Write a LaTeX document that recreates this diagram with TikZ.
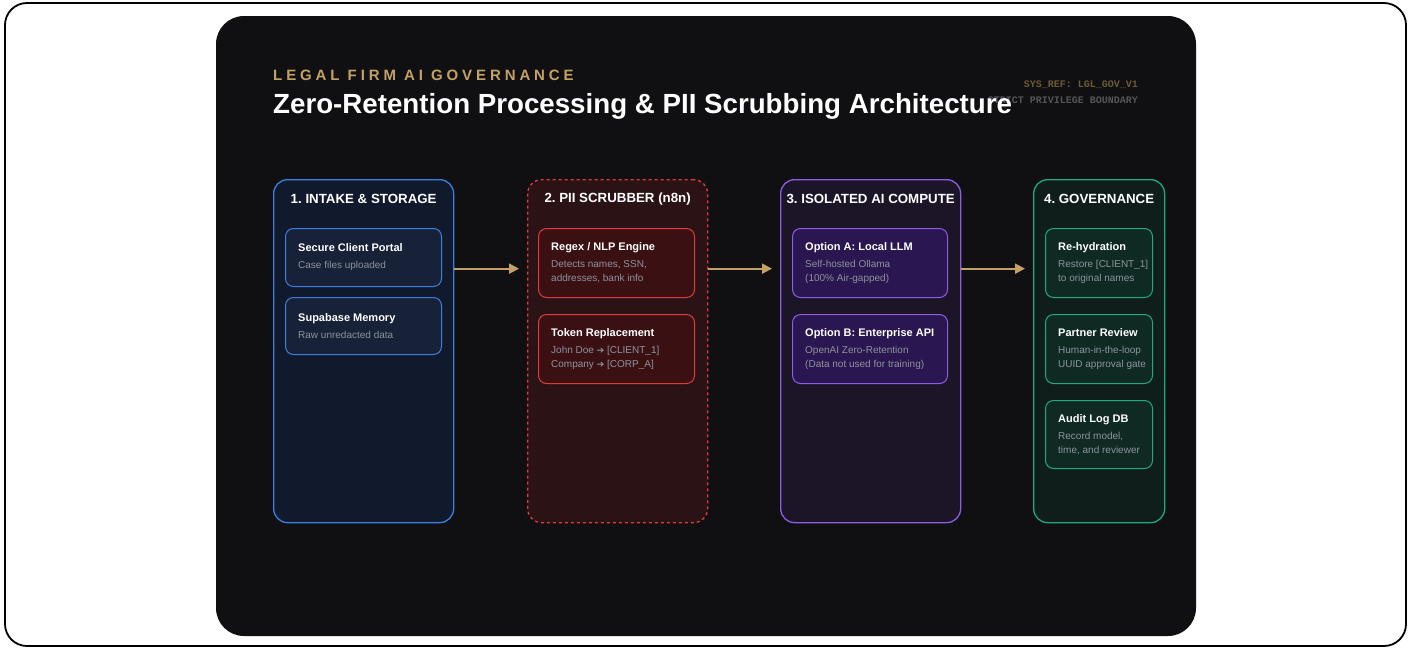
\documentclass[tikz,border=0pt]{standalone}
\usepackage{xcolor}
\usepackage{fontspec}
\setmainfont{Liberation Sans}
\setmonofont{Liberation Mono}
\newfontfamily\spacedfont[LetterSpace=26]{Liberation Sans}
\newfontfamily\symfont{DejaVu Sans}
\usepackage{tikz}
\usetikzlibrary{arrows.meta}
\frenchspacing

\definecolor{panelbg}{HTML}{101012}
\definecolor{gold}{HTML}{C4A265}
\definecolor{golddim}{HTML}{6E5B36}
\definecolor{monogray}{HTML}{56565A}
\definecolor{desc}{HTML}{8E939C}
\definecolor{blueline}{HTML}{3B7FE3}
\definecolor{bluefill}{HTML}{111A2D}
\definecolor{bluecard}{HTML}{172137}
\definecolor{redline}{HTML}{DE3B3B}
\definecolor{redfill}{HTML}{2B1315}
\definecolor{redcard}{HTML}{3B1013}
\definecolor{purpline}{HTML}{8C5DE6}
\definecolor{purpfill}{HTML}{1C1528}
\definecolor{purpcard}{HTML}{2A1650}
\definecolor{greenline}{HTML}{1FAA7A}
\definecolor{greenfill}{HTML}{0F1E1B}
\definecolor{greencard}{HTML}{0F2A23}

\begin{document}
\begin{tikzpicture}[x=1pt,y=-1pt,
    col/.style={rounded corners=14pt,line width=1.3pt,minimum width=180pt,
        minimum height=343pt,anchor=north west,inner sep=0pt},
    coltitle/.style={text=white,font=\fontsize{13.3}{16}\selectfont\bfseries},
    card/.style={rounded corners=8pt,line width=1pt,anchor=north west,
        minimum width=156pt,inner sep=0pt},
    cardtxt/.style={anchor=west,xshift=13pt,align=left,text=desc,
        inner sep=0pt,font=\fontsize{10}{14}\selectfont},
    flow/.style={draw=gold,line width=2pt,-{Triangle[length=10pt,width=10pt]},
        shorten >=8pt}]
\useasboundingbox (0,0) rectangle (1412,648);

% frame and panel
\draw[line width=1.8pt,rounded corners=22pt,fill=white] (5,3) rectangle (1406,646);
\fill[panelbg,rounded corners=28pt] (216,16) rectangle (1196,636);

% header
\node[anchor=base west,inner sep=0pt,text=gold,font=\spacedfont\fontsize{15}{18}\selectfont\bfseries]
    (kicker) at (273,80) {LEGAL FIRM AI GOVERNANCE};
\node[anchor=base east,inner sep=0pt,text=golddim,font=\ttfamily\bfseries\fontsize{10}{12}\selectfont]
    (sysref) at (1138,87) {SYS\_REF: LGL\_GOV\_V1};
\node[anchor=base east,inner sep=0pt,text=monogray,font=\ttfamily\bfseries\fontsize{10}{12}\selectfont]
    (boundary) at (1138,103) {STRICT PRIVILEGE BOUNDARY};
\node[anchor=base west,inner sep=0pt,text=white,font=\fontsize{27.7}{32}\selectfont\bfseries]
    (title) at (273,113) {Zero-Retention Processing \& PII Scrubbing Architecture};

% columns
\node[col,draw=blueline,fill=bluefill] (intake) at (273,179) {};
\node[col,draw=redline,fill=redfill,dash pattern=on 3pt off 3pt] (scrub) at (527,179) {};
\node[col,draw=purpline,fill=purpfill] (compute) at (780,179) {};
\node[col,draw=greenline,fill=greenfill,minimum width=131pt] (gov) at (1033,179) {};

\node[coltitle] (intake-t) at ([yshift=-20pt]intake.north) {1. INTAKE \& STORAGE};
\node[coltitle] (scrub-t) at ([yshift=-20pt]scrub.north) {2. PII SCRUBBER (n8n)};
\node[coltitle] (compute-t) at ([yshift=-20pt]compute.north) {3. ISOLATED AI COMPUTE};
\node[coltitle] (gov-t) at ([yshift=-20pt]gov.north) {4. GOVERNANCE};

% column 1
\node[card,draw=blueline,fill=bluecard,minimum height=58pt] (portal) at (285,228) {};
\node[cardtxt] (portal-x) at (portal.west)
    {{\color{white}\bfseries\fontsize{11}{14}\selectfont Secure Client Portal}\\[3pt]Case files uploaded};
\node[card,draw=blueline,fill=bluecard,minimum height=57pt] (memory) at (285,297) {};
\node[cardtxt] (memory-x) at (memory.west)
    {{\color{white}\bfseries\fontsize{11}{14}\selectfont Supabase Memory}\\[3pt]Raw unredacted data};

% column 2
\node[card,draw=redline,fill=redcard,minimum height=69pt] (regex) at (538,228) {};
\node[cardtxt] (regex-x) at (regex.west)
    {{\color{white}\bfseries\fontsize{11}{14}\selectfont Regex / NLP Engine}\\[3pt]Detects names, SSN,\\addresses, bank info};
\node[card,draw=redline,fill=redcard,minimum height=69pt] (token) at (538,314) {};
\node[cardtxt] (token-x) at (token.west)
    {{\color{white}\bfseries\fontsize{11}{14}\selectfont Token Replacement}\\[3pt]John Doe {\symfont\fontsize{9}{14}\selectfont ➔} [CLIENT\_1]\\Company {\symfont\fontsize{9}{14}\selectfont ➔} [CORP\_A]};

% column 3
\node[card,draw=purpline,fill=purpcard,minimum width=155pt,minimum height=69pt] (local) at (792,228) {};
\node[cardtxt] (local-x) at (local.west)
    {{\color{white}\bfseries\fontsize{11}{14}\selectfont Option A: Local LLM}\\[3pt]Self-hosted Ollama\\(100\% Air-gapped)};
\node[card,draw=purpline,fill=purpcard,minimum width=155pt,minimum height=69pt] (enterprise) at (792,314) {};
\node[cardtxt] (enterprise-x) at (enterprise.west)
    {{\color{white}\bfseries\fontsize{11}{14}\selectfont Option B: Enterprise API}\\[3pt]OpenAI Zero-Retention\\(Data not used for training)};

% column 4
\node[card,draw=greenline,fill=greencard,minimum width=107pt,minimum height=69pt] (rehyd) at (1045,228) {};
\node[cardtxt] (rehyd-x) at (rehyd.west)
    {{\color{white}\bfseries\fontsize{11}{14}\selectfont Re-hydration}\\[3pt]Restore [CLIENT\_1]\\to original names};
\node[card,draw=greenline,fill=greencard,minimum width=107pt,minimum height=69pt] (review) at (1045,314) {};
\node[cardtxt] (review-x) at (review.west)
    {{\color{white}\bfseries\fontsize{11}{14}\selectfont Partner Review}\\[3pt]Human-in-the-loop\\UUID approval gate};
\node[card,draw=greenline,fill=greencard,minimum width=107pt,minimum height=68pt] (audit) at (1045,400) {};
\node[cardtxt] (audit-x) at (audit.west)
    {{\color{white}\bfseries\fontsize{11}{14}\selectfont Audit Log DB}\\[3pt]Record model,\\time, and reviewer};

% flow
\draw[flow] ([yshift=82.5pt]intake.east) -- ([yshift=82.5pt]scrub.west);
\draw[flow] ([yshift=82.5pt]scrub.east) -- ([yshift=82.5pt]compute.west);
\draw[flow] ([yshift=82.5pt]compute.east) -- ([yshift=82.5pt]gov.west);
\end{tikzpicture}
\end{document}
